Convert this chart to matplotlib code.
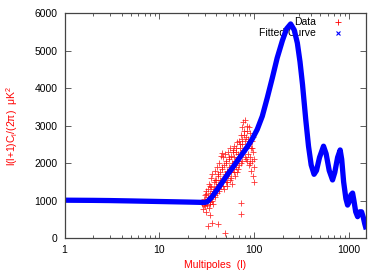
import matplotlib
matplotlib.use("Agg")
import matplotlib.pyplot as plt
from matplotlib.ticker import LogLocator, NullFormatter, FixedLocator

plt.rcParams['font.family'] = ['Liberation Sans', 'DejaVu Sans']
plt.rcParams['mathtext.fontset'] = 'custom'
plt.rcParams['mathtext.rm'] = 'Liberation Sans'
plt.rcParams['mathtext.it'] = 'Liberation Sans'

# fitted curve (multipole l, l(l+1)C_l/2pi)
fit_l = [1, 2, 3, 5, 10, 20, 30, 32, 36, 44, 52, 61, 72, 85, 96, 108, 122,
         138, 156, 175, 199, 220, 243, 265, 286, 305, 324, 351, 375, 400, 429,
         455, 490, 540, 575, 620, 672, 710, 760, 809, 840, 880, 930, 969,
         1000, 1050, 1094, 1130, 1180, 1236, 1300, 1360, 1420, 1470, 1500]
fit_cl = [1010, 1005, 1000, 990, 975, 960, 950, 968, 1100, 1410, 1680, 1920,
          2180, 2435, 2650, 2900, 3250, 3750, 4280, 4800, 5270, 5580, 5710,
          5550, 5200, 4700, 4100, 3150, 2450, 1950, 1700, 1800, 2150, 2450,
          2250, 1800, 1550, 1750, 2150, 2350, 2100, 1500, 1050, 880, 950,
          1150, 1200, 1000, 700, 570, 700, 700, 550, 380, 300]

# measured points
data_l = [28.5, 29.2, 29.6, 30.0, 30.3, 30.7, 31.0, 31.4, 31.8, 32.1, 32.5,
          32.9, 33.2, 33.6, 34.0, 34.3, 34.7, 35.1, 35.5, 35.9, 36.3, 36.7,
          37.1, 37.5, 38.0, 38.4, 38.9, 39.3, 39.8, 40.2, 40.7, 41.2, 41.7,
          42.2, 42.7, 43.2, 43.7, 44.2, 44.8, 45.3, 45.9, 46.4, 47.0, 47.6,
          48.2, 48.8, 49.4, 50.0, 50.6, 51.2, 51.8, 52.5, 53.1, 53.8, 54.4,
          55.1, 55.8, 56.5, 57.2, 57.9, 58.6, 59.3, 60.0, 60.8, 61.5, 62.3,
          63.1, 63.9, 64.7, 65.5, 66.3, 67.2, 68.0, 68.9, 69.8, 70.7, 71.6,
          72.5, 73.4, 74.3, 75.3, 76.2, 77.2, 78.2, 79.2, 80.2, 81.2, 82.2,
          83.3, 84.3, 85.4, 86.5, 87.6, 88.7, 89.8, 91.0, 92.1, 93.3, 94.5,
          95.7, 96.9, 98.1, 99.4, 100.6,
          30.5, 32.7, 35.3, 37.8, 40.5, 43.0, 46.0, 49.0, 52.0, 55.5, 59.0,
          62.8, 66.8, 71.0, 75.8, 80.7, 86.0, 91.5, 97.5,
          31.2, 34.5, 38.6, 41.9, 45.6, 50.3, 54.8, 60.4, 65.1, 70.2, 74.8,
          78.7, 83.8, 88.2,
          29.8, 33.9, 36.1, 39.1, 42.4, 47.3, 51.5, 56.9, 61.9, 67.6, 73.9,
          79.7, 85.0, 90.4, 95.1, 99.9,
          34.1, 33.0, 36.0, 41.5, 49.7, 73.0, 72.0]
data_cl = [900, 780, 1050, 850, 1150, 950, 700, 1250, 1000, 880, 1320,
           1100, 800, 1450, 1200, 950, 1600, 1050, 1350, 1150, 1700, 1250,
           900, 1500, 1300, 1800, 1100, 1550, 1400, 1900, 1200, 1650, 1450,
           2000, 1300, 1750, 1550, 2200, 1400, 2270, 1850, 1600, 2150, 1300,
           1950, 1700, 2250, 1500, 2050, 1800, 1400, 2300, 1650, 2100, 1900,
           1550, 2400, 1750, 2200, 2000, 1450, 2350, 1850, 2150, 2450, 1650,
           2050, 2300, 1900, 2550, 1750, 2250, 2050, 2600, 1950, 2400, 2200,
           2750, 2000, 2950, 2500, 3100, 2300, 2850, 2600, 3150, 2100, 2700,
           2450, 3000, 2250, 2650, 1950, 2500, 2800, 2150, 2400, 1800, 2600,
           2050, 1650, 2300, 1500, 1900,
           980, 1030, 1120, 1250, 1350, 1450, 1550, 1650, 1750, 1850, 1950,
           2050, 2150, 2250, 2350, 2400, 2500, 2600, 2700,
           1180, 1380, 1550, 1700, 1900, 2000, 2150, 2300, 2400, 2500, 2650,
           2750, 2850, 2950,
           880, 900, 1000, 1150, 1250, 1400, 1500, 1600, 1750, 1850, 2050,
           2150, 2050, 2000, 2400, 2100,
           613, 330, 410, 365, 140, 940, 640]

xticks = [1, 10, 100, 1000]
yticks = [0, 1000, 2000, 3000, 4000, 5000, 6000]

fig = plt.figure(figsize=(3.82, 2.73), dpi=100)
ax = fig.add_axes([0.169, 0.128, 0.788, 0.824])

ax.plot(data_l, data_cl, linestyle='none', marker='+', color='red',
        markersize=4, markeredgewidth=0.6, alpha=0.8, zorder=2)
ax.plot(fit_l, fit_cl, color='blue', linewidth=3.8, solid_joinstyle='round',
        zorder=3)

ax.set_xscale('log')
ax.set_xlim(1, 1500)
ax.set_ylim(0, 6000)
ax.xaxis.set_major_locator(FixedLocator(xticks))
ax.set_xticklabels([str(t) for t in xticks])
ax.xaxis.set_minor_locator(LogLocator(base=10, subs=range(2, 10)))
ax.xaxis.set_minor_formatter(NullFormatter())
ax.set_yticks(yticks)
ax.set_yticklabels([str(t) for t in yticks])

ax.tick_params(which='both', direction='in', top=True, right=True,
               labelsize=7.5, color='#444444', width=0.6)
ax.tick_params(which='major', length=4, pad=5)
ax.tick_params(which='minor', length=2)
for s in ax.spines.values():
    s.set_color('#444444')
    s.set_linewidth(0.9)
    s.set_zorder(4)

ax.set_xlabel('Multipoles  (l)', color='red', fontsize=7.5)
ax.set_ylabel(r'l(l+1)C$_\mathregular{l}$/(2$\mathregular{\pi}$)  $\mathregular{\mu}$K$^\mathregular{2}$',
              color='red', fontsize=7.5)
ax.xaxis.set_label_coords(0.5, -0.098)
ax.yaxis.set_label_coords(-0.148, 0.5)

# gnuplot-style key: right-aligned text, symbol on the right
ax.text(0.835, 0.96, 'Data', transform=ax.transAxes, ha='right', va='center',
        fontsize=7.5, zorder=1)
ax.text(0.835, 0.911, 'Fitted Curve', transform=ax.transAxes, ha='right',
        va='center', fontsize=7.5, zorder=1)
ax.plot([0.908], [0.96], transform=ax.transAxes, marker='+', color='red',
        markersize=4, markeredgewidth=0.6, linestyle='none', clip_on=False)
ax.plot([0.908], [0.911], transform=ax.transAxes, marker='x', color='blue',
        markersize=3, markeredgewidth=0.8, linestyle='none', clip_on=False)

fig.savefig('out.png', dpi=100)
